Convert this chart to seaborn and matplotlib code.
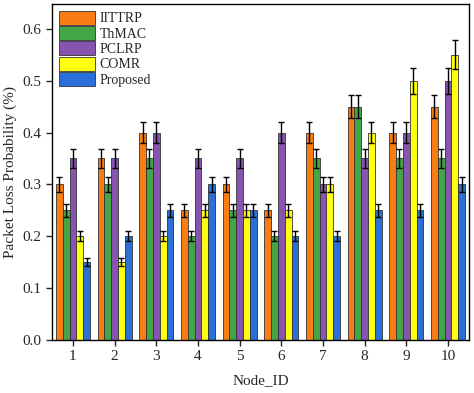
import numpy as np
import pandas as pd
import matplotlib
matplotlib.use("Agg")
import matplotlib.pyplot as plt
import seaborn as sns

nodes = ["1", "2", "3", "4", "5", "6", "7", "8", "9", "10"]
methods = ["IITTRP", "ThMAC", "PCLRP", "COMR", "Proposed"]
iittrp = [0.30, 0.35, 0.40, 0.25, 0.30, 0.25, 0.40, 0.45, 0.40, 0.45]
thmac = [0.25, 0.30, 0.35, 0.20, 0.25, 0.20, 0.35, 0.45, 0.35, 0.35]
pclrp = [0.35, 0.35, 0.40, 0.35, 0.35, 0.40, 0.30, 0.35, 0.40, 0.50]
comr = [0.20, 0.15, 0.20, 0.25, 0.25, 0.25, 0.30, 0.40, 0.50, 0.55]
proposed = [0.15, 0.20, 0.25, 0.30, 0.25, 0.20, 0.20, 0.25, 0.25, 0.30]
err_iittrp = [0.015, 0.0175, 0.02, 0.0125, 0.015, 0.0125, 0.02, 0.0225, 0.02, 0.0225]
err_thmac = [0.0125, 0.015, 0.0175, 0.01, 0.0125, 0.01, 0.0175, 0.0225, 0.0175, 0.0175]
err_pclrp = [0.0175, 0.0175, 0.02, 0.0175, 0.0175, 0.02, 0.015, 0.0175, 0.02, 0.025]
err_comr = [0.01, 0.0075, 0.01, 0.0125, 0.0125, 0.0125, 0.015, 0.02, 0.025, 0.0275]
err_proposed = [0.0075, 0.01, 0.0125, 0.015, 0.0125, 0.01, 0.01, 0.0125, 0.0125, 0.015]
colors = ["#FA7D14", "#43A545", "#8755B0", "#FFFF10", "#2B70D8"]

series = [iittrp, thmac, pclrp, comr, proposed]
errs = [err_iittrp, err_thmac, err_pclrp, err_comr, err_proposed]
rows = []
for m, vals, es in zip(methods, series, errs):
    for n, v, e in zip(nodes, vals, es):
        rows.append({"Node_ID": n, "Method": m, "Value": v, "Err": e})
df = pd.DataFrame(rows)

sns.set_style("ticks")
plt.rcParams["font.family"] = ["Liberation Serif", "DejaVu Serif"]

fig, ax = plt.subplots(figsize=(4.74, 3.93), dpi=100)
sns.barplot(data=df, x="Node_ID", y="Value", hue="Method", order=nodes,
            hue_order=methods, palette=colors, errorbar=None, width=0.82,
            saturation=1, edgecolor="#333333", linewidth=0.6, ax=ax)

for i, m in enumerate(methods):
    cont = ax.containers[i]
    sub = df[df["Method"] == m].set_index("Node_ID").loc[nodes]
    xs = [p.get_x() + p.get_width() / 2 for p in cont.patches]
    ax.errorbar(xs, sub["Value"].values, yerr=sub["Err"].values, fmt="none",
                ecolor="black", elinewidth=1.0, capsize=2.5, capthick=1.0, zorder=5)

ax.set_ylim(0, 0.648)
ax.set_xlim(-0.5, 9.5)
ax.set_yticks([0.0, 0.1, 0.2, 0.3, 0.4, 0.5, 0.6])
ax.set_yticklabels(["0.0", "0.1", "0.2", "0.3", "0.4", "0.5", "0.6"])
ax.set_xlabel("Node_ID", fontsize=11, labelpad=8)
ax.set_ylabel("Packet Loss Probability (%)", fontsize=11)
ax.tick_params(axis="both", labelsize=11, direction="out", length=4, width=1.0)
for s in ax.spines.values():
    s.set_linewidth(1.0)
    s.set_color("black")

leg = ax.legend(loc="upper left", frameon=False, fontsize=10, handlelength=2.6,
                handleheight=1.15, labelspacing=0.05, handletextpad=0.3,
                borderaxespad=0.3, borderpad=0.2)

fig.subplots_adjust(left=0.11, right=0.989, bottom=0.135, top=0.99)
fig.savefig("out.png", dpi=100)
